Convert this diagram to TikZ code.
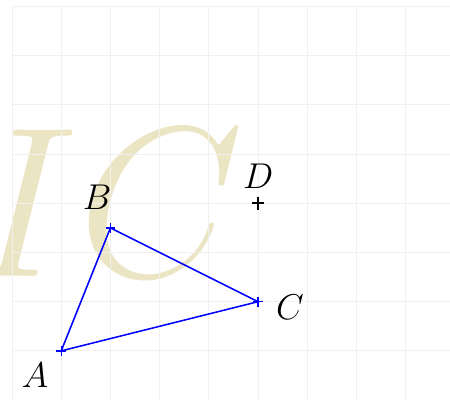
\documentclass[tikz,border=0pt]{standalone}
\definecolor{wmark}{RGB}{236,229,196}

\begin{document}
\begin{tikzpicture}[
  font=\huge,
  grd/.style={gray!12, line width=0.5pt},
  wm/.style={text=wmark, font=\huge, scale=5.98, transform shape, inner sep=0pt, anchor=base west},
  tri/.style={blue, line width=0.9pt},
  tick/.style={blue, line width=0.8pt},
  dot/.style={black, line width=1pt},
  lab/.style={inner sep=0pt}]
\useasboundingbox (-0.244,0.02) rectangle (8.9,8.13);
\node[wm] (mark) at (-0.9,2.52) {$IC$};
\draw[grd] (0,0) grid (9,8);
\coordinate (A) at (1,1);
\coordinate (B) at (2,3.5);
\coordinate (C) at (5,2);
\coordinate (D) at (5,4);
\draw[tri] (A) -- (B) -- (C) -- cycle;
\foreach \p in {A,B,C}
  \draw[tick] (\p) +(-0.1,0) -- +(0.1,0) (\p) +(0,-0.1) -- +(0,0.1);
\draw[dot] (D) +(-0.13,0) -- +(0.13,0) (D) +(0,-0.13) -- +(0,0.13);
\node[lab] (lA) at ([shift={(-0.53,-0.49)}]A) {$A$};
\node[lab] (lB) at ([shift={(-0.27,0.63)}]B) {$B$};
\node[lab] (lC) at ([shift={(0.65,-0.11)}]C) {$C$};
\node[lab] (lD) at ([shift={(0,0.54)}]D) {$D$};
\end{tikzpicture}
\end{document}
